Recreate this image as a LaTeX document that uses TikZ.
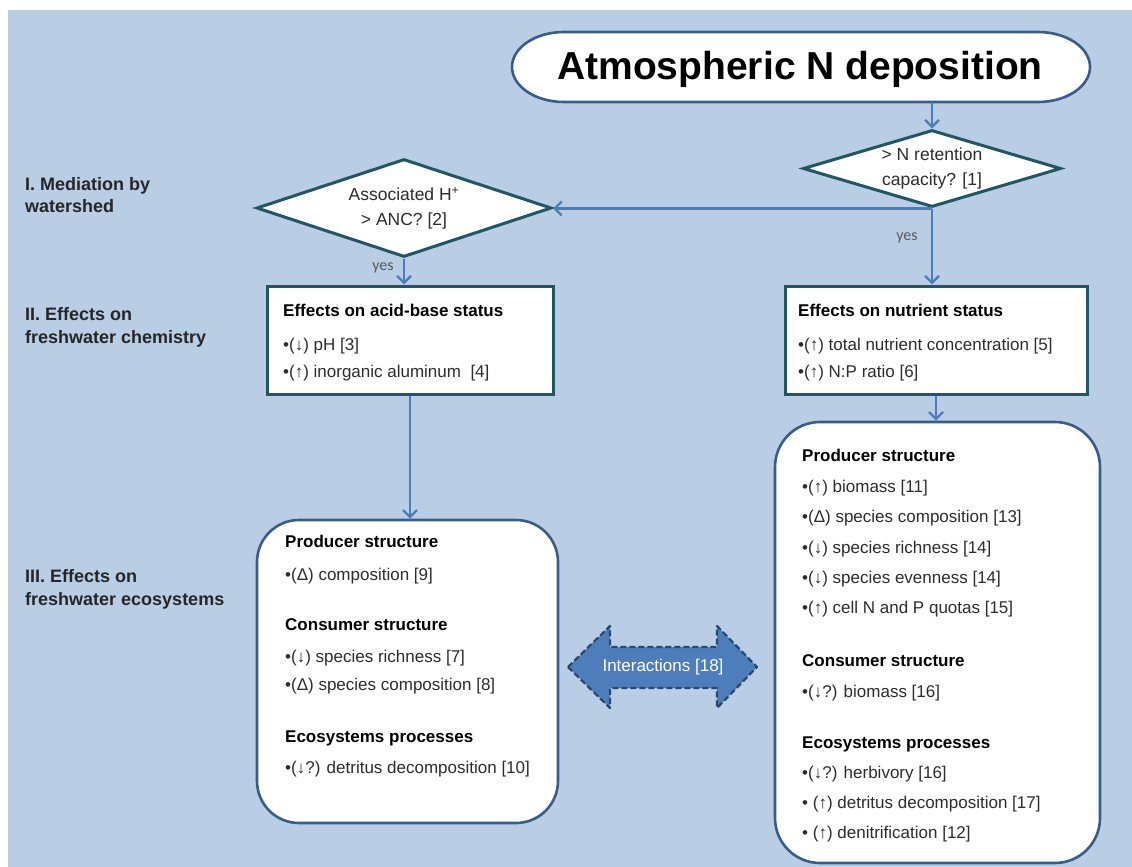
\documentclass[tikz,border=0pt]{standalone}
\usepackage{fontspec}
\setmainfont{Liberation Sans}
\newfontfamily\carl{Carlito}
\usetikzlibrary{arrows.meta,shapes.geometric}
\definecolor{bgblue}{RGB}{185,205,229}
\definecolor{dteal}{RGB}{33,86,100}
\definecolor{sblue}{RGB}{56,93,138}
\definecolor{ablue}{RGB}{74,126,187}
\definecolor{txt}{RGB}{45,45,45}
\definecolor{ifill}{RGB}{77,125,186}
\definecolor{idark}{RGB}{40,72,112}
\begin{document}
\begin{tikzpicture}[x=1pt,y=-1pt,
  flow/.style={draw=ablue, line width=2.4pt, -{Straight Barb[length=7pt,width=14pt]}},
  dia/.style={diamond, draw=dteal, line width=3pt, fill=white, inner sep=0pt, align=center, text=txt, font=\fontsize{17.5}{25}\selectfont},
  sqbox/.style={draw=dteal, line width=3pt, fill=white, inner sep=0pt},
  rbox/.style={draw=sblue, line width=2.6pt, fill=white, inner sep=0pt},
  hd/.style={anchor=base west, inner sep=0pt, text=black, font=\bfseries\fontsize{17}{20}\selectfont},
  it/.style={anchor=base west, inner sep=0pt, text=txt, font=\fontsize{17}{20}\selectfont},
  lbl/.style={anchor=base west, inner sep=0pt, align=left, text=black!85, font=\bfseries\fontsize{18}{22.5}\selectfont},
  yeslbl/.style={inner sep=0pt, text=black!65, font=\carl\fontsize{16}{18}\selectfont}
]
\useasboundingbox (0,0) rectangle (1132,867);
\fill[white] (0,0) rectangle (1132,867);
\fill[bgblue] (8,10) rectangle (1132,867);

% top terminator
\draw[draw=sblue, line width=2.6pt, fill=white]
  (564,32) -- (1038,32) arc[start angle=90, end angle=-90, x radius=52pt, y radius=35pt]
  -- (564,102) arc[start angle=-90, end angle=-270, x radius=52pt, y radius=35pt] -- cycle;
\node[anchor=base, inner sep=0pt, text=black, font=\bfseries\fontsize{39}{44}\selectfont] (atm) at (800,80) {Atmospheric N deposition};
\coordinate (atmb) at (932,102);

% left labels (base = last line baseline)
\node[lbl] (lab1) at (25,212.5) {I. Mediation by\\watershed};
\node[lbl] (lab2) at (25,343) {II. Effects on\\freshwater chemistry};
\node[lbl] (lab3) at (25,605) {III. Effects on\\freshwater ecosystems};

% diamonds
\node[dia, minimum width=258pt, minimum height=77pt, aspect=3.35] (d1) at (932,168.5) {> N retention\\capacity? [1]};
\node[dia, minimum width=295pt, minimum height=98pt, aspect=3.01] (d2) at (404,208) {Associated H\textsuperscript{+}\\> ANC? [2]};

% chemistry boxes
\node[sqbox, minimum width=286pt, minimum height=108pt] (r1) at (410,340) {};
\node[sqbox, minimum width=302pt, minimum height=108pt] (r2) at (936,340) {};

% ecosystem boxes
\node[rbox, rounded corners=42pt, minimum width=301pt, minimum height=303pt] (b1) at (407.5,671.5) {};
\node[rbox, rounded corners=45pt, minimum width=325pt, minimum height=441pt] (b2) at (937.5,642.5) {};

% connectors
\draw[flow] (atmb) -- (d1.north);
\draw[flow] (d1.south) -- (d1.south -| d2.east);
\draw[flow] (d1.south) -- (d1.south |- r2.north);
\draw[flow] (d2.south) -- (d2.south |- r1.north);
\draw[flow] (r1.south) -- (r1.south |- b1.north);
\draw[flow] (r2.south) -- (r2.south |- b2.north);
\node[yeslbl] (yes1) at (907,238) {yes};
\node[yeslbl] (yes2) at (383,268) {yes};

% rect texts
\node[hd] (r1h) at (283,316) {Effects on acid-base status};
\node[it] (r1a) at (283,350) {•(↓) pH [3]};
\node[it] (r1b) at (283,377) {•(↑) inorganic aluminum\ \ [4]};
\node[hd] (r2h) at (798,316) {Effects on nutrient status};
\node[it] (r2a) at (798,350) {•(↑) total nutrient concentration [5]};
\node[it] (r2b) at (798,377) {•(↑) N:P ratio [6]};

% left eco box
\node[hd] (b1h1) at (285,547) {Producer structure};
\node[it] (b1a) at (285,580) {•(Δ) composition [9]};
\node[hd] (b1h2) at (285,630) {Consumer structure};
\node[it] (b1b) at (285,662) {•(↓) species richness [7]};
\node[it] (b1c) at (285,690) {•(Δ) species composition [8]};
\node[hd] (b1h3) at (285,742) {Ecosystems processes};
\node[it] (b1d) at (285,773) {•(↓?) detritus decomposition [10]};

% right eco box
\node[hd] (b2h1) at (802,461) {Producer structure};
\node[it] (b2a) at (802,492) {•(↑) biomass [11]};
\node[it] (b2b) at (802,522) {•(Δ) species composition [13]};
\node[it] (b2c) at (802,553) {•(↓) species richness [14]};
\node[it] (b2d) at (802,583) {•(↓) species evenness [14]};
\node[it] (b2e) at (802,613) {•(↑) cell N\ and P\ quotas [15]};
\node[hd] (b2h2) at (802,666) {Consumer structure};
\node[it] (b2f) at (802,697) {•(↓?) biomass [16]};
\node[hd] (b2h3) at (802,748) {Ecosystems processes};
\node[it] (b2g) at (802,778) {•(↓?) herbivory [16]};
\node[it] (b2h) at (802,808) {• (↑) detritus decomposition [17]};
\node[it] (b2i) at (802,838) {• (↑) denitrification [12]};

% interactions double arrow
\draw[fill=ifill, draw=idark, line width=2.2pt, dash pattern=on 6pt off 3pt, line join=round]
  (568,667) -- (610,626) -- (610,647) -- (717,647) -- (717,626) -- (757,667)
  -- (717,708) -- (717,688) -- (610,688) -- (610,708) -- cycle;
\node[inner sep=0pt, text=white, font=\fontsize{17}{20}\selectfont] (inter) at (663,667) {Interactions [18]};
\end{tikzpicture}
\end{document}
